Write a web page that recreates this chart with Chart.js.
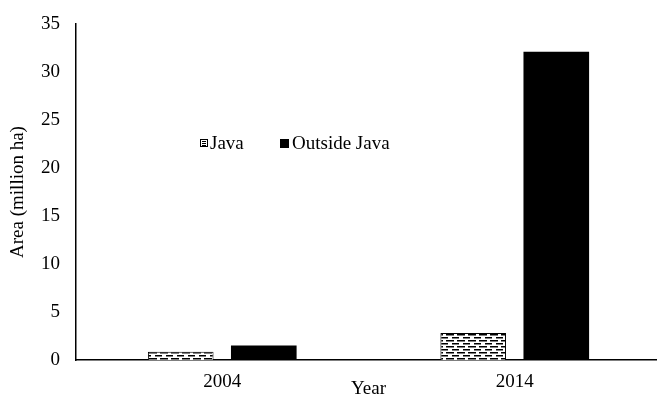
<!DOCTYPE html>
<html>
<head>
<meta charset="utf-8">
<script src="https://cdn.jsdelivr.net/npm/chart.js@4"></script>
<style>
html,body{margin:0;padding:0;background:#fff;overflow:hidden;}
#wrap{width:657px;height:394px;position:relative;overflow:hidden;}
</style>
</head>
<body>
<div id="wrap"><canvas id="c" width="661" height="394"></canvas></div>
<script>
const categories = ['2004', '2014'];
const javaValues = [0.85, 2.8];
const outsideJavaValues = [1.5, 32.1];
const seriesLabels = ['Java', 'Outside Java'];
const yTicks = [0, 5, 10, 15, 20, 25, 30, 35];
const xTitle = 'Year';
const yTitle = 'Area (million ha)';

const FONT = "'Liberation Serif', 'Times New Roman', serif";
const FS = 19;

function makePattern() {
  const t = document.createElement('canvas');
  t.width = 11; t.height = 6;
  const g = t.getContext('2d');
  g.fillStyle = '#fff';
  g.fillRect(0, 0, 11, 6);
  g.fillStyle = '#000';
  g.fillRect(1, 1, 7, 1.5);
  g.fillRect(0, 4, 3, 1.5);
  g.fillRect(6, 4, 5, 1.5);
  return g.createPattern(t, 'repeat');
}
const pattern = makePattern();

const legendPlugin = {
  id: 'innerLegend',
  afterDraw(chart) {
    const ctx = chart.ctx;
    ctx.save();
    ctx.font = FS + 'px ' + FONT;
    ctx.textBaseline = 'middle';
    ctx.textAlign = 'left';
    const y = 143;
    // Java
    ctx.fillStyle = '#fff';
    ctx.fillRect(200, 139, 8, 8);
    ctx.strokeStyle = '#000';
    ctx.lineWidth = 1;
    ctx.strokeRect(200.5, 139.5, 7, 7);
    ctx.fillStyle = '#000';
    ctx.fillRect(202, 141, 4, 1);
    ctx.fillRect(202, 143, 4, 1);
    ctx.fillRect(202, 145, 4, 1);
    ctx.fillText(seriesLabels[0], 210, y + 1);
    // Outside Java
    ctx.fillRect(280, 139, 9, 9);
    ctx.fillText(seriesLabels[1], 292, y + 1);
    ctx.restore();
  }
};

new Chart(document.getElementById('c'), {
  type: 'bar',
  data: {
    labels: categories,
    datasets: [
      {label: seriesLabels[0], data: javaValues, backgroundColor: pattern, borderColor: '#000', borderWidth: 1},
      {label: seriesLabels[1], data: outsideJavaValues, backgroundColor: '#000', borderColor: '#000', borderWidth: 0}
    ]
  },
  options: {
    responsive: false,
    animation: false,
    devicePixelRatio: 1,
    categoryPercentage: 0.568,
    barPercentage: 0.79,
    layout: {padding: {left: 0, right: 0, top: 24, bottom: 0}},
    plugins: {legend: {display: false}, tooltip: {enabled: false}},
    scales: {
      x: {
        grid: {display: false, drawTicks: false},
        border: {display: true, color: '#000', width: 1.5},
        ticks: {color: '#000', font: {family: FONT, size: FS}, padding: 11},
        title: {display: true, text: xTitle, color: '#000', font: {family: FONT, size: FS}, padding: {top: 0, bottom: -6}},
        afterFit(s) { s.height = 34; s.paddingLeft = 0; s.paddingRight = 0; }
      },
      y: {
        min: 0, max: 35,
        afterBuildTicks(s) { s.ticks = yTicks.map(v => ({value: v})); },
        grid: {display: false, drawTicks: false},
        border: {display: true, color: '#000', width: 1.5},
        ticks: {color: '#000', font: {family: FONT, size: FS}, padding: 16},
        title: {display: true, text: yTitle, color: '#000', font: {family: FONT, size: FS}, padding: {top: 7, bottom: 0}},
        afterFit(s) { s.width = 76; s.paddingTop = 0; s.paddingBottom = 0; }
      }
    }
  },
  plugins: [legendPlugin]
});
</script>
</body>
</html>
